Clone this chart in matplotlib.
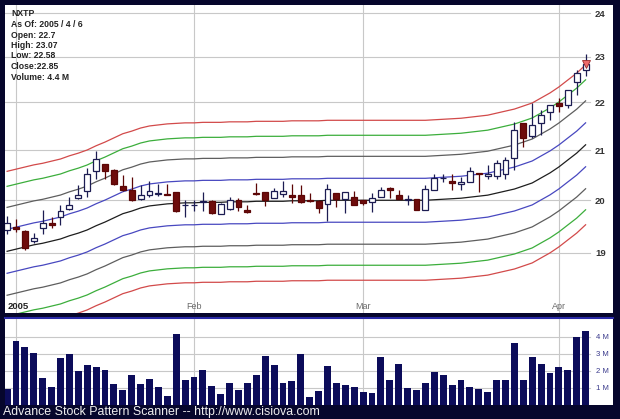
import numpy as np
import pandas as pd
import matplotlib
matplotlib.use("Agg")
import matplotlib.pyplot as plt
from matplotlib.ticker import FixedLocator, NullLocator, FixedFormatter

plt.rcParams['font.family'] = ['Liberation Sans', 'DejaVu Sans']

# ---------------- data ----------------
symbol = "NXTP"
info_lines = ["NXTP", "As Of: 2005 / 4 / 6", "Open: 22.7", "High: 23.07",
              "Low: 22.58", "Close:22.85", "Volume: 4.4 M"]
holidays = ["2005-01-17", "2005-02-21", "2005-03-25"]
dates = [d for d in pd.bdate_range("2004-12-31", "2005-04-06")
         if d.strftime("%Y-%m-%d") not in holidays]

opens = [19.43, 19.48, 19.41, 19.22, 19.46, 19.56, 19.67, 19.83, 20.05, 20.18,
         20.58, 20.72, 20.60, 20.28, 20.20, 20.02, 20.10, 20.13, 20.13, 20.16,
         19.90, 19.90, 19.97, 19.98, 19.73, 19.83, 20.00, 19.81, 20.15, 20.16,
         20.04, 20.12, 20.10, 20.10, 20.00, 19.98, 19.93, 20.14, 20.02, 20.06,
         20.00, 19.96, 20.06, 20.24, 20.10, 20.01, 20.02, 19.81, 20.20, 20.43,
         20.38, 20.32, 20.36, 20.54, 20.48, 20.48, 20.52, 20.84, 21.57, 21.29,
         21.57, 21.80, 21.98, 21.94, 22.45, 22.70]
highs = [19.69, 19.64, 19.43, 19.37, 19.81, 19.67, 19.91, 20.06, 20.30, 20.64,
         20.98, 20.72, 20.62, 20.50, 20.46, 20.30, 20.38, 20.32, 20.32, 20.16,
         20.00, 20.00, 20.16, 20.00, 19.95, 20.06, 20.04, 19.91, 20.34, 20.16,
         20.24, 20.38, 20.32, 20.30, 20.14, 20.00, 20.32, 20.14, 20.16, 20.18,
         20.00, 20.14, 20.26, 20.26, 20.20, 20.10, 20.02, 20.30, 20.52, 20.52,
         20.52, 20.46, 20.66, 20.54, 20.70, 20.80, 20.86, 21.59, 21.57, 21.98,
         21.84, 21.94, 22.10, 22.27, 22.70, 23.07]
lows = [19.35, 19.39, 19.05, 19.18, 19.35, 19.46, 19.52, 19.82, 20.02, 20.06,
        20.42, 20.42, 20.30, 20.18, 19.98, 20.00, 20.06, 20.08, 20.10, 19.77,
        19.67, 19.79, 19.79, 19.73, 19.73, 19.81, 19.79, 19.75, 20.10, 19.89,
        20.04, 20.06, 19.94, 19.94, 19.96, 19.75, 19.60, 19.87, 19.75, 19.91,
        19.90, 19.77, 20.06, 20.04, 20.02, 19.91, 19.81, 19.81, 20.20, 20.36,
        20.20, 20.20, 20.36, 20.16, 20.42, 20.42, 20.42, 20.60, 21.07, 21.26,
        21.31, 21.63, 21.80, 21.88, 22.16, 22.58]
closes = [19.56, 19.45, 19.09, 19.28, 19.56, 19.53, 19.79, 19.91, 20.10, 20.52,
          20.82, 20.58, 20.32, 20.20, 20.00, 20.10, 20.18, 20.14, 20.11, 19.79,
          19.91, 19.91, 19.98, 19.75, 19.93, 20.00, 19.87, 19.78, 20.12, 20.00,
          20.18, 20.18, 20.06, 19.96, 19.98, 19.85, 20.22, 20.02, 20.16, 19.91,
          19.94, 20.04, 20.20, 20.20, 20.02, 20.02, 19.81, 20.22, 20.44, 20.44,
          20.34, 20.36, 20.58, 20.52, 20.52, 20.74, 20.80, 21.42, 21.26, 21.52,
          21.73, 21.94, 21.92, 22.27, 22.63, 22.85]
volumes_m = [0.95, 3.8, 3.43, 3.1, 1.6, 1.05, 2.8, 3.0, 2.0, 2.35,
             2.25, 2.05, 1.25, 0.9, 1.8, 1.25, 1.55, 1.05, 0.55, 4.2,
             1.5, 1.65, 2.05, 1.15, 0.65, 1.3, 0.9, 1.3, 1.75, 2.9,
             2.35, 1.3, 1.45, 3.0, 0.5, 0.85, 2.3, 1.3, 1.2, 1.05,
             0.75, 0.7, 2.85, 1.5, 2.45, 1.0, 0.9, 1.3, 1.95, 1.8,
             1.2, 1.5, 1.05, 0.95, 0.75, 1.5, 1.5, 3.65, 1.5, 2.85,
             2.4, 1.9, 2.25, 2.1, 4.05, 4.4]
center_line = [19.03, 19.07, 19.11, 19.15, 19.18, 19.22, 19.26, 19.32, 19.37, 19.43,
               19.51, 19.58, 19.66, 19.74, 19.79, 19.85, 19.89, 19.91, 19.93, 19.94,
               19.95, 19.95, 19.96, 19.96, 19.96, 19.97, 19.97, 19.97, 19.98, 19.98,
               19.98, 19.98, 19.99, 19.99, 19.99, 19.99, 20.00, 20.00, 20.00, 20.00,
               20.00, 20.00, 20.00, 20.00, 20.00, 20.00, 20.00, 20.00, 20.01, 20.02,
               20.03, 20.04, 20.06, 20.08, 20.10, 20.14, 20.18, 20.22, 20.28, 20.34,
               20.44, 20.54, 20.66, 20.80, 20.94, 21.11]
band_log_offsets = [0.0214, 0.0428, 0.0633, 0.0779]
band_colors = ["#4848c0", "#5e5e5e", "#3cae3c", "#d24a4a"]
price_ticks = [19, 20, 21, 22, 23, 24]
volume_ticks = [1, 2, 3, 4]
footer = "Advance Stock Pattern Scanner -- http://www.cisiova.com"

# ---------------- figure ----------------
W, H = 620, 419
BG = "#06062c"
fig = plt.figure(figsize=(W / 100, H / 100), dpi=100, facecolor=BG)


def rect(l, t, r, b):
    return [l / W, 1 - b / H, (r - l) / W, (b - t) / H]


ax = fig.add_axes(rect(5, 5, 613, 313))
axv = fig.add_axes(rect(5, 318, 613, 405), sharex=ax)

n = len(opens)
x = np.arange(n)
o = np.array(opens); h = np.array(highs); lo = np.array(lows); c = np.array(closes)
cl = np.array(center_line)

x_left, x_right = 1 - 1.236, 68.08
ax.set_xlim(x_left, x_right)
ax.set_yscale("log")
ax.set_ylim(17.92, 24.19)

grid_c = "#c8c8c8"
gx_end = (590 - 5) / 608

# month positions
month_pos = []
month_lab = []
for i, d in enumerate(dates):
    if i > 0 and d.month != dates[i - 1].month:
        month_pos.append(i)
        month_lab.append("2005" if d.month == 1 else d.strftime("%b"))

for mp in month_pos:
    ax.axvline(mp, color=grid_c, lw=0.8, zorder=1)
    axv.axvline(mp, color=grid_c, lw=0.8, zorder=1)
for t in price_ticks:
    ax.axhline(t, xmin=0, xmax=gx_end, color=grid_c, lw=0.8, zorder=1)

# bands
ax.plot(x, cl, color="#1e1e1e", lw=0.9, zorder=2)
for k, col in zip(band_log_offsets, band_colors):
    ax.plot(x, cl * np.exp(k), color=col, lw=0.9, zorder=2)
    ax.plot(x, cl * np.exp(-k), color=col, lw=0.9, zorder=2)

# candles
up = c >= o
edge = np.where(up, "#1c1c52", "#5c0606")
face = np.where(up, "#ffffff", "#6e0c0c")
ax.vlines(x, lo, h, colors=edge, lw=0.9, zorder=3)
bot = np.minimum(o, c)
hei = np.maximum(np.abs(c - o), 0.004)
ax.bar(x, hei, bottom=bot, width=0.66, color=face, edgecolor=edge,
       linewidth=0.9, zorder=4)
ax.plot(x[-1], c[-1], marker="v", ms=6, color="#ec6a6a", mec="#9a2a2a",
        mew=0.6, zorder=5)

# axes styling
for s in ax.spines.values():
    s.set_visible(False)
ax.yaxis.tick_right()
ax.yaxis.set_major_locator(FixedLocator(price_ticks))
ax.yaxis.set_minor_locator(NullLocator())
ax.yaxis.set_major_formatter(FixedFormatter([str(t) for t in price_ticks]))
ax.tick_params(axis="y", length=0, pad=-13, labelsize=6.8, labelcolor="#333333")
for lab in ax.get_yticklabels():
    lab.set_fontweight("bold")
ax.tick_params(axis="x", length=0, labelbottom=False)
ax.set_facecolor("white")

xt = ax.get_xaxis_transform()
for mp, ml in zip(month_pos, month_lab):
    if ml == "2005":
        ax.text(mp + 0.2, 0.02, ml, transform=xt, ha="center", va="center",
                fontsize=6.8, fontweight="bold", color="#222222")
    else:
        ax.text(mp, 0.02, ml, transform=xt, ha="center", va="center",
                fontsize=6.5, color="#6a6a6a")

for j, s in enumerate(info_lines):
    fig.text(11 / W, 1 - (14 + 10.5 * j) / H, s, ha="left", va="center",
             fontsize=6.2, fontweight="bold", color="#222222")

# volume
axv.bar(x, volumes_m, width=0.78, color="#0c0c5a", zorder=3)
axv.set_ylim(0, 5.15)
for t in volume_ticks:
    axv.axhline(t, xmin=0, xmax=gx_end, color=grid_c, lw=0.8, zorder=1)
    axv.text((596 - 5) / 608, t, f"{t} M", transform=axv.get_yaxis_transform(),
             ha="left", va="center", fontsize=5.6, color="#3a3a8c")
for name, s in axv.spines.items():
    s.set_visible(name == "top")
axv.spines["top"].set_color("#2a2aa8")
axv.spines["top"].set_linewidth(1.5)
axv.set_yticks([])
axv.tick_params(axis="x", length=0, labelbottom=False)
axv.set_facecolor("white")

fig.text(3 / W, 1 - 412 / H, footer, ha="left", va="center", fontsize=8.9,
         color="#eeeeee")

fig.savefig("out.png", dpi=100, facecolor=BG)
